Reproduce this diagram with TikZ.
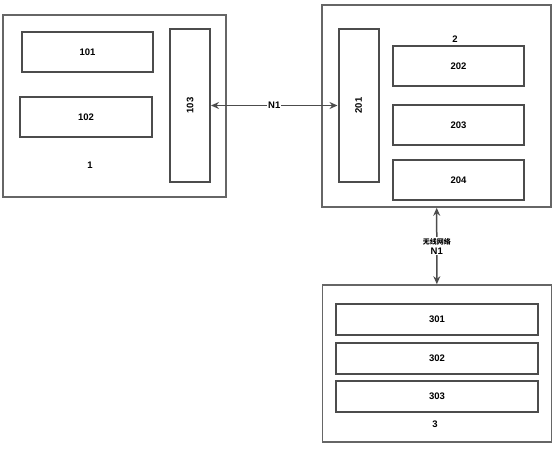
\documentclass[tikz,border=0pt]{standalone}
\usepackage{fontspec}
\setmainfont{Liberation Sans}
\newfontfamily\cjk{Noto Sans CJK SC}
\usetikzlibrary{arrows.meta}

\begin{document}
\begin{tikzpicture}[x=1pt,y=-1pt,
  frame/.style={draw=black!60,line width=1.6pt,inner sep=0pt},
  unit/.style={draw=black!70,line width=2pt,inner sep=0pt,font=\bfseries\fontsize{9.5}{10}\selectfont},
  tag/.style={font=\bfseries\fontsize{9.5}{10}\selectfont,inner sep=1pt},
  link/.style={<->,draw=black!70,line width=1.5pt},
  >={Stealth[length=8pt,width=7pt]}]
\useasboundingbox (0,0) rectangle (557,450);
% device 1
\node[frame,minimum width=223pt,minimum height=182pt] (dev1) at (114.5,106) {};
\node[unit,minimum width=131pt,minimum height=40pt] (u101) at (87.5,52) {101};
\node[unit,minimum width=132pt,minimum height=40pt] (u102) at (86,117) {102};
\node[unit,minimum width=40pt,minimum height=153pt] (u103) at (190,105.5) {};
\node[tag,rotate=90] (t103) at (u103.center) {103};
\node[tag] (lab1) at (90,165) {1};
% device 2
\node[frame,minimum width=229pt,minimum height=202pt] (dev2) at (436.5,106) {};
\node[unit,minimum width=40pt,minimum height=153pt] (u201) at (358.5,105.5) {};
\node[tag,rotate=90] (t201) at (u201.center) {201};
\node[unit,minimum width=131pt,minimum height=40pt] (u202) at (458.5,66) {202};
\node[unit,minimum width=131pt,minimum height=40pt] (u203) at (458.5,125) {203};
\node[unit,minimum width=131pt,minimum height=40pt] (u204) at (458.5,180) {204};
\node[tag] (lab2) at (455,39) {2};
% device 3
\node[frame,minimum width=229pt,minimum height=157pt] (dev3) at (437,363.5) {};
\node[unit,minimum width=202pt,minimum height=31pt] (u301) at (437,319.5) {301};
\node[unit,minimum width=202pt,minimum height=31pt] (u302) at (437,358) {302};
\node[unit,minimum width=202pt,minimum height=31pt] (u303) at (437,396) {303};
\node[tag] (lab3) at (435,424) {3};
% links
\draw[link] (u103) -- node[tag,fill=white] (n1a) {N1} (u201);
\draw[link] (dev2) -- node[tag,fill=white,align=center] (n1b) {{\cjk\fontsize{7}{8}\selectfont 无线网络}\\N1} (dev3);
\end{tikzpicture}
\end{document}
